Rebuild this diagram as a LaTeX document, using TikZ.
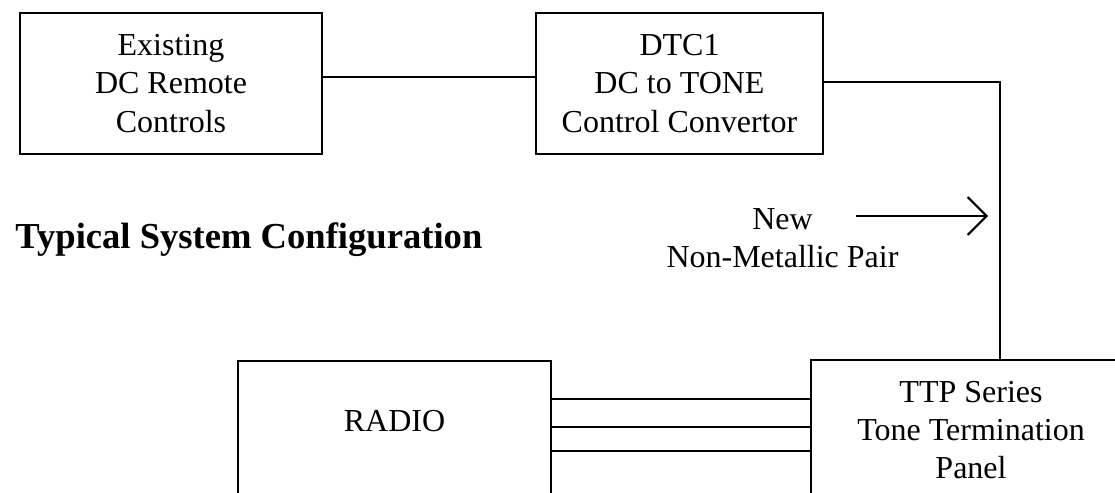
\documentclass[tikz,border=0pt]{standalone}
\usepackage{fontspec}
\setmainfont{Liberation Serif}
\usetikzlibrary{arrows.meta, positioning, calc}

\begin{document}
\begin{tikzpicture}[
    x=0.5pt, y=-0.5pt,
    unitbox/.style={rectangle, draw, line width=1.1pt, align=center, inner sep=0pt, font=\fontsize{16}{19.2}\selectfont},
    textonly/.style={align=center, inner sep=0pt, font=\fontsize{16}{19.2}\selectfont},
    wire/.style={line width=1pt},
    pointer/.style={-{Straight Barb[length=9.5pt, width=19pt]}, line width=1pt},
    heading/.style={font=\fontsize{18.3}{22}\selectfont\bfseries, inner sep=0pt}
]
    % page frame
    \useasboundingbox (0,0) rectangle (1115,493);
    \clip (0,0) rectangle (1115,493);

    % Top row
    \node[unitbox, minimum width=151pt, minimum height=70.5pt] (existing) at (171,83.5) {Existing\\DC Remote\\Controls};
    \node[unitbox, minimum width=143.5pt, minimum height=70.5pt] (dtc) at (679.5,83.5) {DTC1\\DC to TONE\\Control Convertor};

    % Bottom row (runs off the page)
    \node[unitbox, minimum width=156.5pt, minimum height=90pt, anchor=north] (radio) at (394.5,360) {};
    \node[textonly] (radiolbl) at ($(radio.north)+(0,61)$) {RADIO};
    \node[unitbox, minimum width=160pt, minimum height=70pt] (ttp) at (971,430) {TTP Series\\Tone Termination\\Panel};

    % Labels
    \node[heading, anchor=base west] (title) at (15,248) {Typical System Configuration};
    \node[textonly] (pairlbl) at (782.5,238) {New\\Non-Metallic Pair};

    % Connections
    \coordinate (bend) at (1000,82);
    \coordinate (ptail) at (856,216);
    \coordinate (phead) at (988,216);
    \draw[wire] (existing.east |- 0,77) -- (dtc.west |- 0,77);
    \draw[wire] (dtc.east |- bend) -| (bend |- ttp.north);
    \foreach \yy in {399,427,451}
        \draw[wire] (radio.east |- 0,\yy) -- (ttp.west |- 0,\yy);
    \draw[pointer] (ptail) -- (phead);

\end{tikzpicture}
\end{document}
